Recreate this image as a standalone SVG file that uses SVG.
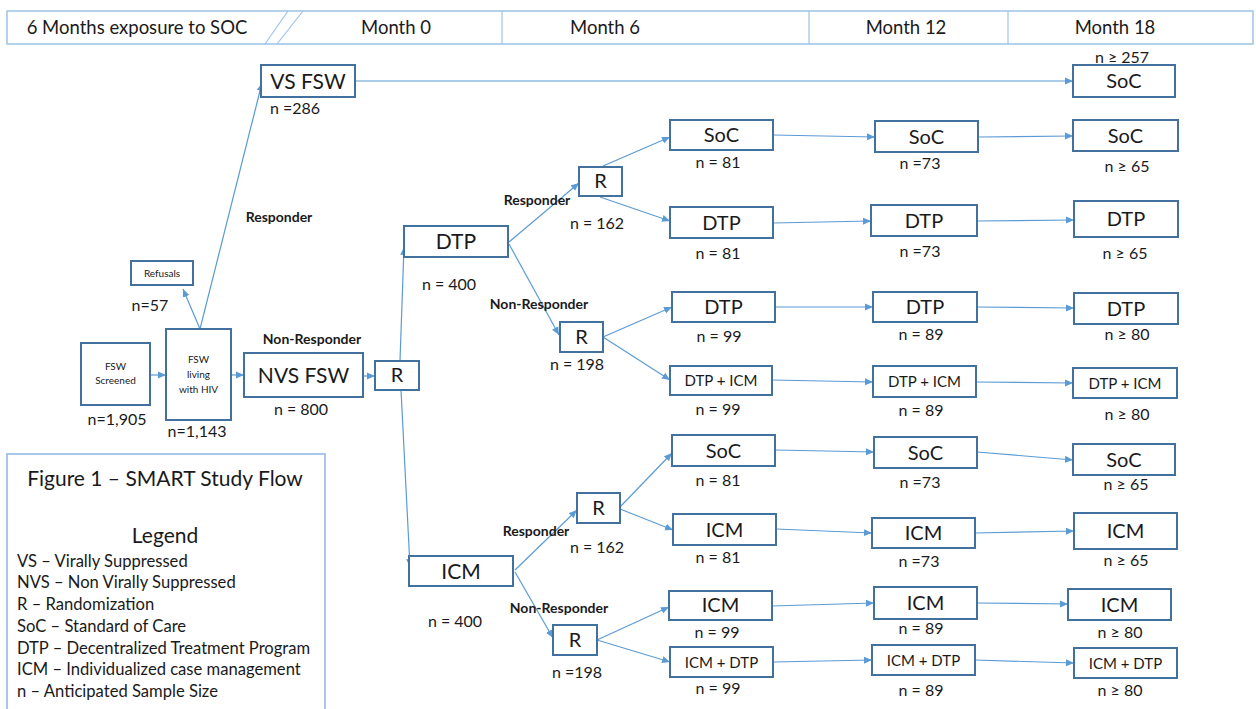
<svg xmlns="http://www.w3.org/2000/svg" width="1256" height="709" viewBox="0 0 1256 709">
<defs>
<marker id="ah" markerUnits="userSpaceOnUse" markerWidth="8" markerHeight="8" refX="8" refY="4" orient="auto"><path d="M0,0.5 L8,4 L0,7.5 z" fill="#5b9bd5"/></marker>
<style>
.box{fill:#fff;stroke:#41719c;stroke-width:2}
.t{font-family:Lato,"Liberation Sans",sans-serif;fill:#1a1a1a;text-anchor:middle}
.big{font-size:21px}
.mid{font-size:20px}
.sm{font-size:15px}
.n{font-size:16px}
.lab{font-size:14px;font-weight:bold}
.tiny{font-size:10px}
.c{fill:none;stroke:#5b9bd5;stroke-width:1.2;marker-end:url(#ah)}
.hdr{fill:#fff;stroke:#9dc3e6;stroke-width:1.5}
.hl{stroke:#9dc3e6;stroke-width:1.2}
.ht{font-size:18.5px}
.lg{font-family:Lato,"Liberation Sans",sans-serif;fill:#1a1a1a;font-size:16.6px}
</style>
</defs>
<rect width="1256" height="709" fill="#fff"/>

<g id="header">
<rect class="hdr" x="7" y="11" width="1246" height="33"/>
<line class="hl" x1="288" y1="11" x2="265" y2="44"/>
<line class="hl" x1="303" y1="11" x2="277" y2="44"/>
<line class="hl" x1="502" y1="11" x2="502" y2="44"/>
<line class="hl" x1="809" y1="11" x2="809" y2="44"/>
<line class="hl" x1="1008" y1="11" x2="1008" y2="44"/>
<text class="t ht" x="137" y="34">6 Months exposure to SOC</text>
<text class="t ht" x="396" y="34">Month 0</text>
<text class="t ht" x="605" y="34">Month 6</text>
<text class="t ht" x="906" y="34">Month 12</text>
<text class="t ht" x="1115" y="34">Month 18</text>
</g>

<g id="connectors">
<line class="c" x1="150" y1="375" x2="166" y2="375"/>
<line class="c" x1="231" y1="375" x2="244" y2="375"/>
<line class="c" x1="363" y1="376" x2="375" y2="376"/>
<line class="c" x1="200" y1="329" x2="183" y2="289"/>
<line class="c" x1="200" y1="329" x2="262" y2="83"/>
<line class="c" x1="355" y1="81" x2="1073" y2="81"/>
<line class="c" x1="400" y1="361" x2="404" y2="247"/>
<line class="c" x1="401" y1="390" x2="410" y2="567"/>
<line class="c" x1="509" y1="242" x2="579" y2="183"/>
<line class="c" x1="509" y1="244" x2="559" y2="335"/>
<line class="c" x1="603" y1="166" x2="670" y2="137"/>
<line class="c" x1="600" y1="197" x2="670" y2="221"/>
<line class="c" x1="603" y1="337" x2="672" y2="307"/>
<line class="c" x1="603" y1="337" x2="670" y2="380"/>
<line class="c" x1="773" y1="135" x2="875" y2="137"/>
<line class="c" x1="978" y1="137" x2="1073" y2="136"/>
<line class="c" x1="773" y1="223" x2="871" y2="221"/>
<line class="c" x1="977" y1="221" x2="1074" y2="220"/>
<line class="c" x1="775" y1="307" x2="873" y2="307"/>
<line class="c" x1="977" y1="307" x2="1074" y2="308"/>
<line class="c" x1="772" y1="380" x2="873" y2="382"/>
<line class="c" x1="976" y1="382" x2="1073" y2="383"/>
<line class="c" x1="515" y1="570" x2="577" y2="510"/>
<line class="c" x1="515" y1="572" x2="553" y2="638"/>
<line class="c" x1="620" y1="507" x2="672" y2="453"/>
<line class="c" x1="620" y1="509" x2="673" y2="530"/>
<line class="c" x1="597" y1="640" x2="669" y2="607"/>
<line class="c" x1="597" y1="640" x2="670" y2="662"/>
<line class="c" x1="775" y1="450" x2="874" y2="452"/>
<line class="c" x1="977" y1="452" x2="1073" y2="460"/>
<line class="c" x1="776" y1="529" x2="872" y2="533"/>
<line class="c" x1="975" y1="533" x2="1074" y2="531"/>
<line class="c" x1="772" y1="606" x2="874" y2="603"/>
<line class="c" x1="977" y1="603" x2="1068" y2="604"/>
<line class="c" x1="773" y1="662" x2="872" y2="660"/>
<line class="c" x1="975" y1="660" x2="1074" y2="663"/>
</g>

<g id="labels">
<text class="t lab" x="279" y="222">Responder</text>
<text class="t lab" x="312" y="344">Non-Responder</text>
<text class="t lab" x="537" y="205">Responder</text>
<text class="t lab" x="539" y="309">Non-Responder</text>
<text class="t lab" x="536" y="536">Responder</text>
<text class="t lab" x="559" y="613">Non-Responder</text>
</g>

<g id="n-screened"><rect class="box" x="81" y="343" width="69" height="62"/><text class="t tiny" x="115.5" y="370">FSW</text><text class="t tiny" x="115.5" y="384">Screened</text><text class="t n" x="117" y="425">n=1,905</text></g>
<g id="n-living"><rect class="box" x="166" y="329" width="65" height="91"/><text class="t tiny" x="198.5" y="363">FSW</text><text class="t tiny" x="198.5" y="378">living</text><text class="t tiny" x="198.5" y="393">with HIV</text><text class="t n" x="197" y="437">n=1,143</text></g>
<g id="n-refusals"><rect class="box" x="131" y="261" width="62" height="24"/><text class="t tiny" x="162" y="277">Refusals</text><text class="t n" x="150" y="311">n=57</text></g>
<g id="n-vsfsw"><rect class="box" x="261" y="65" width="94" height="32"/><text class="t big" x="308" y="89">VS FSW</text><text class="t n" x="295" y="114">n =286</text></g>
<g id="n-nvsfsw"><rect class="box" x="244" y="353" width="119" height="44"/><text class="t big" x="303.5" y="383">NVS FSW</text><text class="t n" x="301" y="415">n = 800</text></g>
<g id="n-r0"><rect class="box" x="375" y="361" width="44" height="29"/><text class="t mid" x="397" y="382">R</text></g>
<g id="n-soc-vs"><rect class="box" x="1073" y="65" width="102" height="32"/><text class="t mid" x="1124" y="88">SoC</text><text class="t n" x="1122" y="63">n ≥ 257</text></g>

<g id="n-dtp0"><rect class="box" x="404" y="226" width="104" height="31"/><text class="t big" x="456" y="249">DTP</text><text class="t n" x="449" y="290">n = 400</text></g>
<g id="n-r1"><rect class="box" x="579" y="167" width="43" height="29"/><text class="t mid" x="600.5" y="188">R</text><text class="t n" x="597" y="229">n = 162</text></g>
<g id="n-r2"><rect class="box" x="560" y="322" width="43" height="30"/><text class="t mid" x="581.5" y="344">R</text><text class="t n" x="577" y="370">n = 198</text></g>

<g id="n-soc1a"><rect class="box" x="670" y="120" width="103" height="30"/><text class="t mid" x="721.5" y="142">SoC</text><text class="t n" x="718" y="168">n = 81</text></g>
<g id="n-soc1b"><rect class="box" x="875" y="121" width="103" height="31"/><text class="t mid" x="926.5" y="144">SoC</text><text class="t n" x="920" y="169">n =73</text></g>
<g id="n-soc1c"><rect class="box" x="1073" y="120" width="105" height="31"/><text class="t mid" x="1125.5" y="143">SoC</text><text class="t n" x="1127" y="172">n ≥ 65</text></g>

<g id="n-dtp2a"><rect class="box" x="670" y="207" width="103" height="31"/><text class="t mid" x="721.5" y="230">DTP</text><text class="t n" x="718" y="259">n = 81</text></g>
<g id="n-dtp2b"><rect class="box" x="871" y="205" width="106" height="31"/><text class="t mid" x="924" y="228">DTP</text><text class="t n" x="920" y="257">n =73</text></g>
<g id="n-dtp2c"><rect class="box" x="1074" y="201" width="104" height="36"/><text class="t mid" x="1126" y="226">DTP</text><text class="t n" x="1125" y="259">n ≥ 65</text></g>

<g id="n-dtp3a"><rect class="box" x="672" y="292" width="103" height="30"/><text class="t mid" x="723.5" y="314">DTP</text><text class="t n" x="719" y="342">n = 99</text></g>
<g id="n-dtp3b"><rect class="box" x="873" y="292" width="104" height="30"/><text class="t mid" x="925" y="314">DTP</text><text class="t n" x="921" y="340">n = 89</text></g>
<g id="n-dtp3c"><rect class="box" x="1074" y="293" width="104" height="31"/><text class="t mid" x="1126" y="316">DTP</text><text class="t n" x="1127" y="340">n ≥ 80</text></g>

<g id="n-di4a"><rect class="box" x="670" y="366" width="102" height="29"/><text class="t sm" x="721" y="386">DTP + ICM</text><text class="t n" x="718" y="415">n = 99</text></g>
<g id="n-di4b"><rect class="box" x="873" y="366" width="103" height="31"/><text class="t sm" x="924.5" y="387">DTP + ICM</text><text class="t n" x="921" y="416">n = 89</text></g>
<g id="n-di4c"><rect class="box" x="1073" y="368" width="104" height="30"/><text class="t sm" x="1125" y="389">DTP + ICM</text><text class="t n" x="1127" y="420">n ≥ 80</text></g>

<g id="n-icm0"><rect class="box" x="409" y="556" width="104" height="30"/><text class="t big" x="461" y="579">ICM</text><text class="t n" x="455" y="627">n = 400</text></g>
<g id="n-r3"><rect class="box" x="577" y="493" width="43" height="30"/><text class="t mid" x="598.5" y="515">R</text><text class="t n" x="597" y="553">n = 162</text></g>
<g id="n-r4"><rect class="box" x="553" y="625" width="44" height="30"/><text class="t mid" x="575" y="647">R</text><text class="t n" x="577" y="678">n =198</text></g>

<g id="n-soc5a"><rect class="box" x="672" y="435" width="103" height="31"/><text class="t mid" x="723.5" y="458">SoC</text><text class="t n" x="718" y="486">n = 81</text></g>
<g id="n-soc5b"><rect class="box" x="874" y="437" width="103" height="31"/><text class="t mid" x="925.5" y="460">SoC</text><text class="t n" x="920" y="488">n =73</text></g>
<g id="n-soc5c"><rect class="box" x="1073" y="444" width="102" height="31"/><text class="t mid" x="1124" y="467">SoC</text><text class="t n" x="1126" y="490">n ≥ 65</text></g>

<g id="n-icm6a"><rect class="box" x="673" y="514" width="103" height="31"/><text class="t mid" x="724.5" y="537">ICM</text><text class="t n" x="718" y="563">n = 81</text></g>
<g id="n-icm6b"><rect class="box" x="872" y="518" width="103" height="30"/><text class="t mid" x="923.5" y="540">ICM</text><text class="t n" x="919" y="567">n =73</text></g>
<g id="n-icm6c"><rect class="box" x="1074" y="513" width="103" height="36"/><text class="t mid" x="1125.5" y="538">ICM</text><text class="t n" x="1126" y="566">n ≥ 65</text></g>

<g id="n-icm7a"><rect class="box" x="669" y="591" width="103" height="29"/><text class="t mid" x="720.5" y="612">ICM</text><text class="t n" x="717" y="638">n = 99</text></g>
<g id="n-icm7b"><rect class="box" x="874" y="587" width="103" height="32"/><text class="t mid" x="925.5" y="610">ICM</text><text class="t n" x="921" y="634">n = 89</text></g>
<g id="n-icm7c"><rect class="box" x="1068" y="589" width="103" height="31"/><text class="t mid" x="1119.5" y="612">ICM</text><text class="t n" x="1120" y="638">n ≥ 80</text></g>

<g id="n-id8a"><rect class="box" x="670" y="647" width="103" height="30"/><text class="t sm" x="721.5" y="668">ICM + DTP</text><text class="t n" x="718" y="694">n = 99</text></g>
<g id="n-id8b"><rect class="box" x="872" y="645" width="103" height="30"/><text class="t sm" x="923.5" y="666">ICM + DTP</text><text class="t n" x="921" y="696">n = 89</text></g>
<g id="n-id8c"><rect class="box" x="1074" y="648" width="103" height="30"/><text class="t sm" x="1125.5" y="669">ICM + DTP</text><text class="t n" x="1120" y="696">n ≥ 80</text></g>

<g id="legend">
<rect x="7" y="454" width="318" height="260" fill="#fff" stroke="#8eb4e3" stroke-width="1.5"/>
<text class="t" x="165" y="486" style="font-size:21px">Figure 1 – SMART Study Flow</text>
<text class="t" x="165" y="543" style="font-size:21px">Legend</text>
<text class="lg" x="17" y="567">VS – Virally Suppressed</text>
<text class="lg" x="17" y="588">NVS – Non Virally Suppressed</text>
<text class="lg" x="17" y="610">R – Randomization</text>
<text class="lg" x="17" y="632">SoC – Standard of Care</text>
<text class="lg" x="17" y="654">DTP – Decentralized  Treatment Program</text>
<text class="lg" x="17" y="675">ICM – Individualized  case management</text>
<text class="lg" x="17" y="697">n – Anticipated Sample Size</text>
</g>
</svg>
